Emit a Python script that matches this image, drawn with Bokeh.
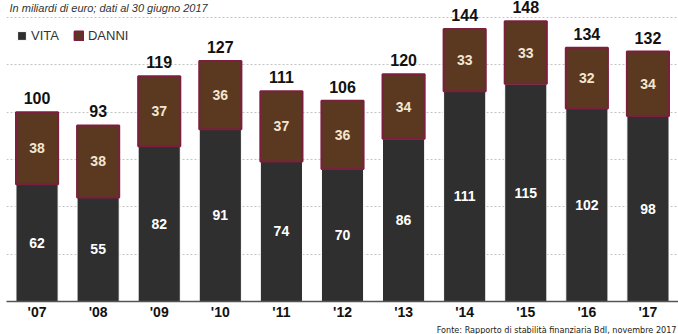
from bokeh.plotting import figure
from bokeh.models import ColumnDataSource, Legend, LegendItem, Label, Range1d, FactorRange, Title
from bokeh.core.properties import value
from bokeh.embed import file_html
from bokeh.resources import INLINE

# ---- data ----
years = ["'07", "'08", "'09", "'10", "'11", "'12", "'13", "'14", "'15", "'16", "'17"]
vita = [62, 55, 82, 91, 74, 70, 86, 111, 115, 102, 98]
danni = [38, 38, 37, 36, 37, 36, 34, 33, 33, 32, 34]
series_names = ["VITA", "DANNI"]
subtitle = "In miliardi di euro; dati al 30 giugno 2017"
source_note = "Fonte: Rapporto di stabilità finanziaria BdI, novembre 2017"

totals = [a + b for a, b in zip(vita, danni)]
src = ColumnDataSource(dict(
    x=years,
    vita=vita,
    danni=danni,
    top=totals,
    vita_mid=[v / 2 for v in vita],
    danni_mid=[v + d / 2 for v, d in zip(vita, danni)],
    vita_txt=[str(v) for v in vita],
    danni_txt=[str(d) for d in danni],
    tot_txt=[str(t) for t in totals],
))

VITA_C = "#2f2f2f"
DANNI_C = "#5b3920"
DANNI_LINE = "#7c1f3e"

p = figure(width=678, height=334, output_backend="svg", toolbar_location=None,
           x_range=FactorRange(*years, range_padding=0.0), y_range=Range1d(0, 159),
           min_border_left=6, min_border_right=0, min_border_top=0, min_border_bottom=0,
           outline_line_color=None, background_fill_color="white", border_fill_color="white")
p.x_range.factor_padding = 0.0

r_v = p.vbar(x="x", top="vita", bottom=0, width=0.69, source=src,
             fill_color=VITA_C, line_color="white", line_width=1)
r_d = p.vbar(x="x", top="top", bottom="vita", width=0.69, source=src,
             fill_color=DANNI_C, line_color=DANNI_LINE, line_width=2)

bold = value("Liberation Sans")
p.text(x="x", y="vita_mid", text="vita_txt", source=src, text_align="center",
       text_baseline="middle", text_color="white", text_font=bold,
       text_font_style="bold", text_font_size="14px")
p.text(x="x", y="danni_mid", text="danni_txt", source=src, text_align="center",
       text_baseline="middle", text_color="#f3e6d0", text_font=bold,
       text_font_style="bold", text_font_size="14px")
p.text(x="x", y="top", text="tot_txt", source=src, text_align="center",
       text_baseline="bottom", y_offset=-8, text_color="#111111", text_font=bold,
       text_font_style="bold", text_font_size="16px")

# axes / grid
p.yaxis.visible = False
p.xgrid.grid_line_color = None
p.ygrid.ticker = [0, 25, 50, 75, 100, 125, 150]
p.ygrid.grid_line_color = "#c4c4c4"
p.ygrid.grid_line_dash = "2 2"
p.ygrid.grid_line_width = 1
p.xaxis.axis_line_color = "#555555"
p.xaxis.axis_line_width = 1.5
p.xaxis.major_tick_line_color = None
p.xaxis.major_tick_out = 0
p.xaxis.major_tick_in = 0
p.xaxis.minor_tick_line_color = None
p.xaxis.major_label_text_font = "Liberation Sans"
p.xaxis.major_label_text_font_style = "bold"
p.xaxis.major_label_text_font_size = "14px"
p.xaxis.major_label_text_color = "#111111"
p.xaxis.major_label_standoff = 2

legend = Legend(items=[LegendItem(label=series_names[0], renderers=[r_v]),
                       LegendItem(label=series_names[1], renderers=[r_d])],
                orientation="horizontal", location=(10, 258),
                glyph_width=11, glyph_height=11, label_standoff=4, spacing=14,
                padding=0, margin=0, border_line_color=None, background_fill_alpha=0,
                label_text_font="Liberation Sans", label_text_font_size="13px",
                label_text_color="#333333", label_height=12)
p.add_layout(legend)

p.add_layout(Label(x=0.05, y=159, y_offset=-1, text=subtitle, text_font="Liberation Sans",
                   text_font_style="italic", text_font_size="11px", text_color="#333333",
                   text_baseline="top"))

note = Title(text=source_note, align="right", text_font_size="9px",
             text_font="'Liberation Sans Narrow', 'DejaVu Sans Condensed', sans-serif",
             text_font_style="normal", text_color="#222222", standoff=0, offset=2)
p.add_layout(note, "below")

open("out.html", "w").write(file_html(p, INLINE))
